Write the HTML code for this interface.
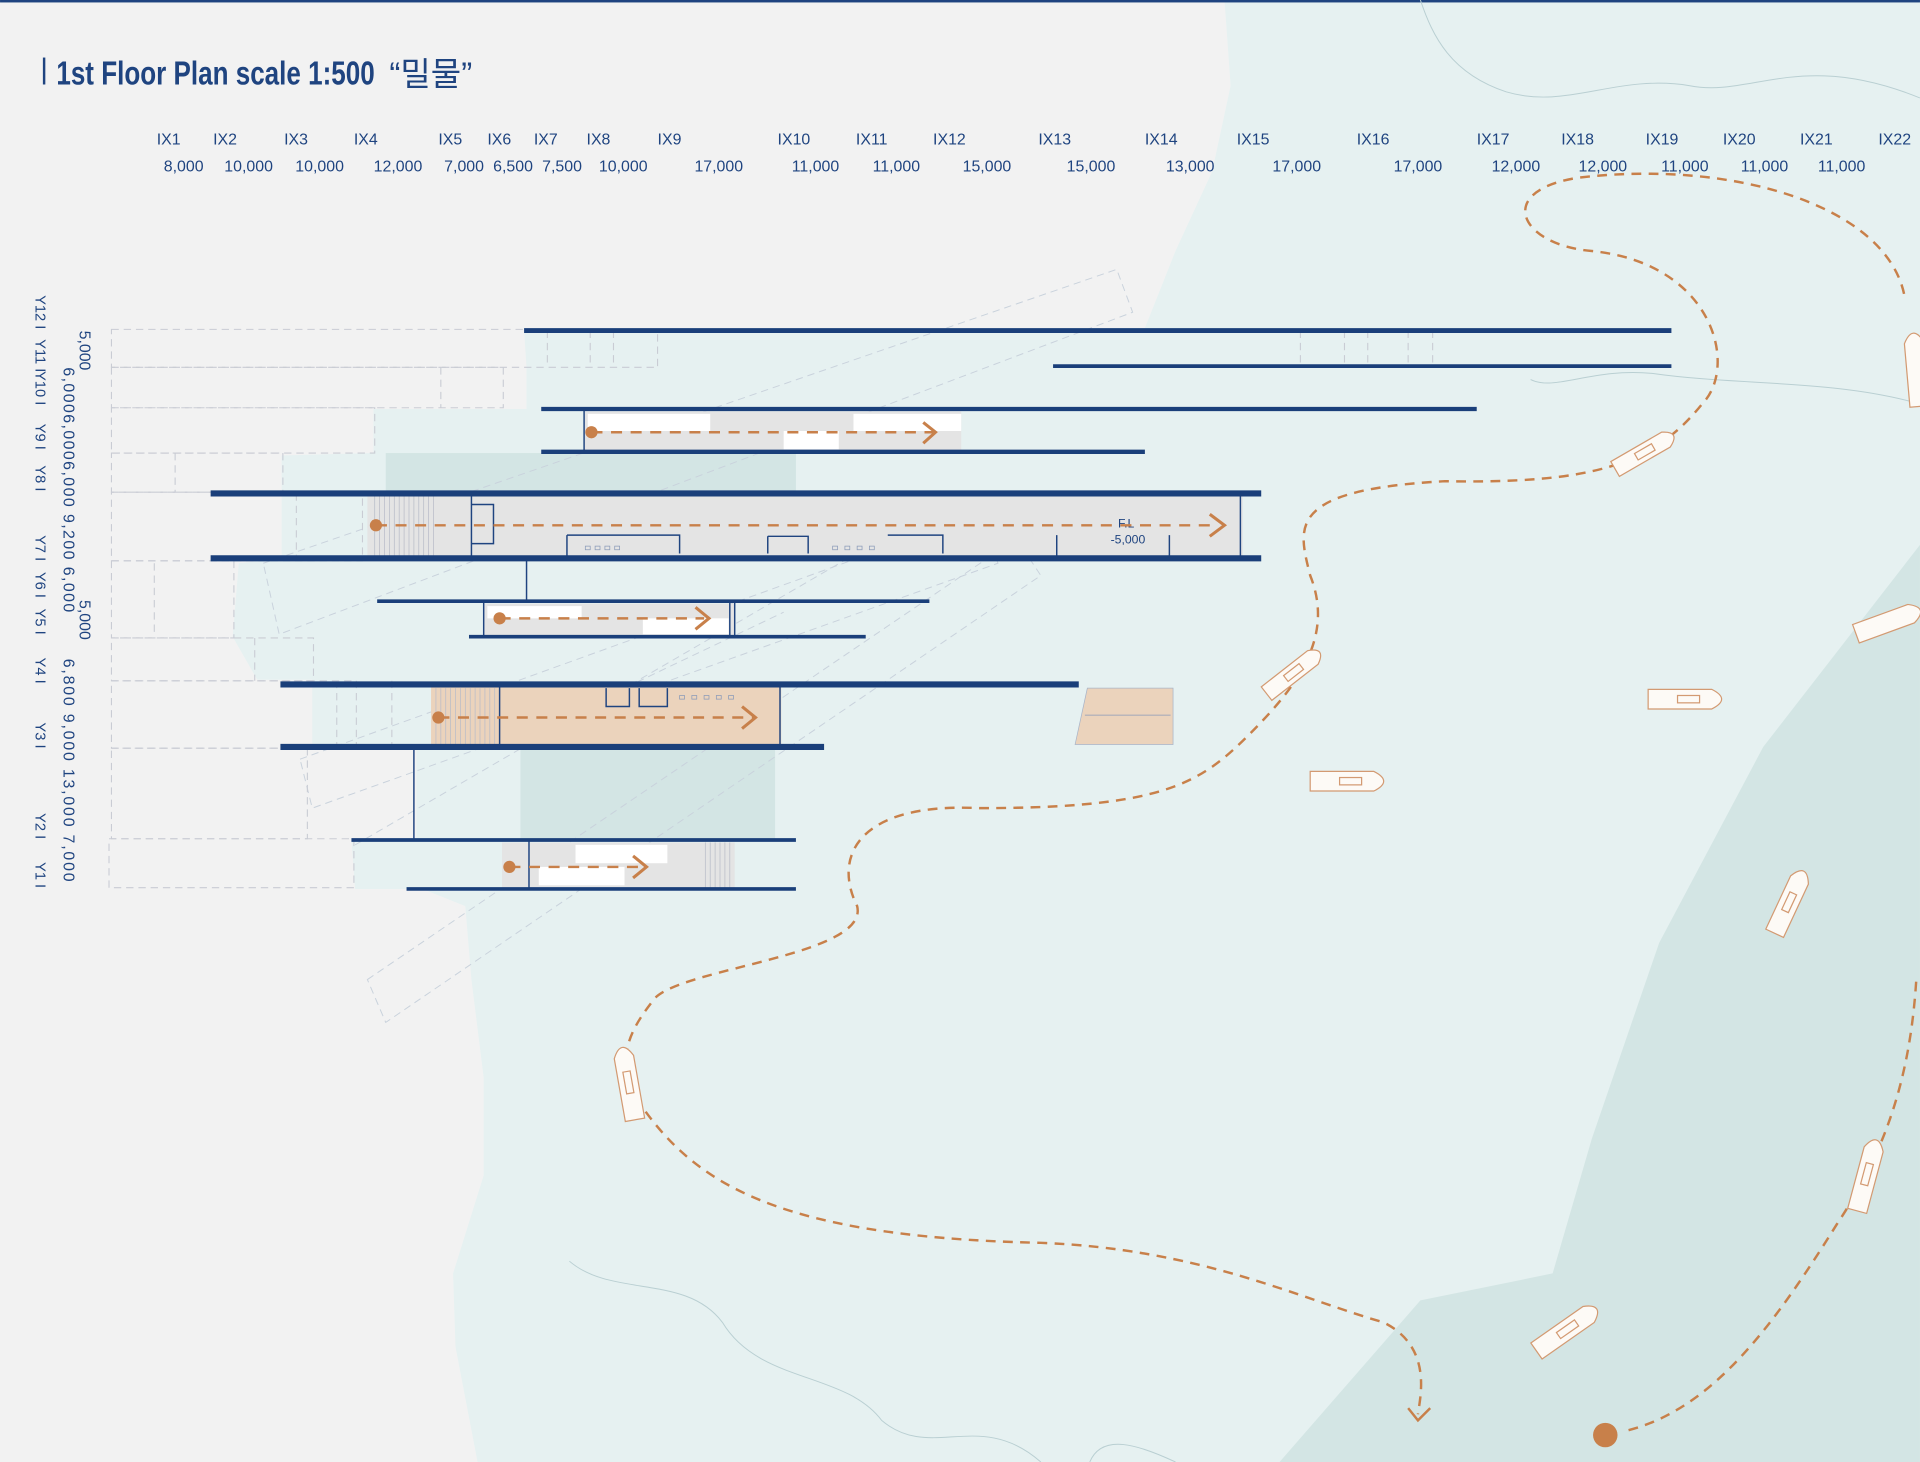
<!DOCTYPE html>
<html><head><meta charset="utf-8"><style>
html,body{margin:0;padding:0;background:#f2f2f2;}
svg{display:block;}
text{font-family:"Liberation Sans","Noto Sans CJK KR",sans-serif;fill:#1f4480;}
</style></head><body>
<svg width="1920" height="1462" viewBox="0 0 1568 1194" xmlns="http://www.w3.org/2000/svg">
<rect width="1568" height="1194" fill="#f2f2f2"/>
<!-- water -->
<path d="M1000,0 L1568,0 L1568,1194 L390,1194 L372,1100 L370,1040 L395,960 L395,880 L385,800 L380,740 L345,726 L290,726 L287,686 L340,686 L340,612 L255,612 L255,555 L210,555 L190,520 L195,460 L230,456 L230,372 L305,370 L305,334 L430,334 L430,300 L428,270 L935,268 L960,205 L990,140 L1005,70 Z" fill="#e6f1f1"/>
<path d="M1045,1194 L1160,1062 L1268,1040 L1300,930 L1355,770 L1440,610 L1568,445 L1568,1194 Z" fill="#d3e5e4"/>
<rect x="315" y="370" width="335" height="32" fill="#d3e5e4"/>
<rect x="425" y="612" width="208" height="73" fill="#d3e5e4"/>
<rect width="1568" height="2" fill="#1f4480"/>
<!-- contour lines -->
<g fill="none" stroke="#b9cfd2" stroke-width="0.8">
<path d="M1160,0 C1170,30 1185,60 1230,75 C1280,90 1320,60 1380,70 C1430,80 1470,40 1568,80"/>
<path d="M1250,310 C1270,320 1300,300 1350,305 C1420,315 1500,310 1568,330"/>
<path d="M465,1030 C500,1060 560,1040 590,1080 C620,1130 690,1120 720,1160 C760,1194 800,1150 850,1194"/>
<path d="M890,1194 C900,1170 930,1180 960,1194"/>
</g>
<!-- diagonal dashed ghost shapes -->
<g fill="none" stroke="#c9d2dc" stroke-width="0.8" stroke-dasharray="6,4">
<path d="M215,460 L912,220 L925,255 L228,518 Z"/>
<path d="M245,620 L800,420 L815,460 L255,660 Z"/>
<path d="M300,800 L830,440 L850,470 L315,835 Z"/>
<path d="M290,690 L720,440"/>
<path d="M430,600 L640,500"/>
</g>
<!-- left dashed grid -->
<g fill="none" stroke="#c9ccd4" stroke-width="0.9" stroke-dasharray="6,4">
<rect x="91" y="269" width="446" height="31"/>
<rect x="91" y="300" width="320" height="33"/>
<rect x="91" y="333" width="215" height="37"/>
<rect x="91" y="370" width="140" height="32"/>
<rect x="91" y="402" width="205" height="56"/>
<rect x="91" y="458" width="100" height="63"/>
<rect x="91" y="521" width="165" height="35"/>
<rect x="91" y="556" width="200" height="55"/>
<rect x="91" y="611" width="160" height="74"/>
<rect x="89" y="685" width="200" height="40"/>
<path d="M447,270V300M482,270V300M501,270V300M1062,270V299M1098,270V299M1117,270V299M1150,270V299M1170,270V299M360,300V333M143,370V402M242,403V456M126,460V520M208,521V556M275,556V611M320,556V611"/>
</g>
<!-- building interiors -->
<rect x="477" y="336" width="308" height="32" fill="#e4e4e4"/>
<rect x="480" y="338" width="100" height="14" fill="#fff"/>
<rect x="640" y="352" width="45" height="15" fill="#fff"/>
<rect x="697" y="338" width="88" height="14" fill="#fff"/>
<rect x="300" y="405" width="715" height="50" fill="#e4e4e4"/>
<rect x="395" y="493" width="205" height="26" fill="#e4e4e4"/>
<rect x="398" y="495" width="77" height="10" fill="#fff"/>
<rect x="525" y="505" width="70" height="13" fill="#fff"/>
<rect x="352" y="561" width="286" height="48" fill="#ebd3bc"/>
<path d="M888,562 L958,562 L958,608 L878,608 Z" fill="#ebd3bc" stroke="#a8b4c8" stroke-width="0.6"/>
<rect x="410" y="688" width="190" height="37" fill="#e4e4e4"/>
<rect x="470" y="690" width="75" height="15" fill="#fff"/>
<rect x="440" y="708" width="70" height="15" fill="#fff"/>
<!-- stairs hatching -->
<g stroke="#b8bcc8" stroke-width="0.6">
<path d="M306,405V455M310,405V455M314,405V455M318,405V455M322,405V455M326,405V455M330,405V455M334,405V455M338,405V455M342,405V455M346,405V455M350,405V455M354,405V455"/>
<path d="M356,562V608M360,562V608M364,562V608M368,562V608M372,562V608M376,562V608M380,562V608M384,562V608M388,562V608M392,562V608M396,562V608M400,562V608M404,562V608"/>
<path d="M576,688V725M580,688V725M584,688V725M588,688V725M592,688V725M596,688V725"/>
</g>
<!-- thin navy walls -->
<g stroke="#1f4480" stroke-width="1.2" fill="none">
<path d="M477,334V369M385,405V455M1013,405V456M395,491V520M600,491V520M637,561V609M408,561V609M432,686V725M430,458V491M338,612V685M596,491V520"/>
<path d="M463,437V455M463,437H555V452M627,438H660V452M627,438V452M725,437H770V452M863,437V455M955,437V455"/>
<path d="M495,562V577H514V562M522,562V577H545V562"/>
<path d="M385,412H403V444H385"/>
</g>
<g stroke="#8a9ab8" stroke-width="0.6" fill="none">
<path d="M478,446h4v3h-4zM486,446h4v3h-4zM494,446h4v3h-4zM502,446h4v3h-4zM680,446h4v3h-4zM690,446h4v3h-4zM700,446h4v3h-4zM710,446h4v3h-4z"/>
<path d="M555,568h4v3h-4zM565,568h4v3h-4zM575,568h4v3h-4zM585,568h4v3h-4zM595,568h4v3h-4z"/>
<path d="M886,584H956"/>
</g>
<!-- slabs -->
<g stroke="#1a3f7a" stroke-width="4">
<path d="M428,270H1365"/>
<path d="M860,299H1365" stroke-width="3"/>
<path d="M442,334H1206" stroke-width="3.5"/>
<path d="M442,369H935" stroke-width="3.5"/>
<path d="M172,403H1030" stroke-width="5"/>
<path d="M172,456H1030" stroke-width="5"/>
<path d="M308,491H759" stroke-width="3"/>
<path d="M383,520H707" stroke-width="3"/>
<path d="M229,559H881" stroke-width="5"/>
<path d="M229,610H673" stroke-width="5"/>
<path d="M287,686H650" stroke-width="3"/>
<path d="M332,726H650" stroke-width="3"/>
</g>
<text x="913" y="431" font-size="10" fill="#1f4480">F.L</text>
<text x="907" y="444" font-size="10">-5,000</text>
<!-- orange flows -->
<g stroke="#c8804a" stroke-width="2" fill="none" stroke-dasharray="9,7">
<path d="M483,353H762"/>
<path d="M307,429H995"/>
<path d="M408,505H575"/>
<path d="M358,586H615"/>
<path d="M416,708H525"/>
</g>
<g stroke="#c8804a" stroke-width="2.5" fill="none">
<path d="M754,345L764,353L754,362"/>
<path d="M988,420L1000,429L988,438"/>
<path d="M568,496L579,505L568,514"/>
<path d="M606,577L617,586L606,595"/>
<path d="M517,699L528,708L517,717"/>
</g>
<g fill="#c8804a">
<circle cx="483" cy="353" r="5"/><circle cx="307" cy="429" r="5"/><circle cx="408" cy="505" r="5"/><circle cx="358" cy="586" r="5"/><circle cx="416" cy="708" r="5"/>
<circle cx="1311" cy="1172" r="10"/>
</g>
<!-- boat paths -->
<g stroke="#c8804a" stroke-width="2" fill="none" stroke-dasharray="8,6">
<path d="M1555,240 C1540,170 1420,130 1290,145 C1220,155 1240,200 1300,205 C1400,215 1420,300 1390,330 C1350,380 1300,395 1180,393 C1050,400 1060,430 1070,470 C1090,520 1060,560 1020,600 C980,640 950,660 800,660 C700,655 680,700 700,740 C710,780 560,790 535,815 C515,840 505,860 515,890 C560,960 620,1010 850,1015 C980,1020 1060,1060 1130,1080 C1170,1100 1160,1140 1158,1155"/>
<path d="M1330,1168 C1400,1150 1450,1080 1500,1000 C1540,940 1560,880 1565,800"/>
</g>
<path d="M1150,1150L1158,1160L1168,1150" stroke="#c8804a" stroke-width="2" fill="none"/>
<!-- boats -->
<g fill="#fdfaf6" stroke="#d39a72" stroke-width="1">
<g transform="translate(1345,368) rotate(-30)"><path d="M-30,-7 H18 Q32,0 18,7 H-30 Z"/><rect x="-10" y="-3" width="16" height="6" fill="none"/></g>
<g transform="translate(1058,548) rotate(-38)"><path d="M-30,-7 H18 Q32,0 18,7 H-30 Z"/><rect x="-10" y="-3" width="16" height="6" fill="none"/></g>
<g transform="translate(1378,571)"><path d="M-32,-8 H20 Q36,0 20,8 H-32 Z"/><rect x="-8" y="-3" width="18" height="6" fill="none"/></g>
<g transform="translate(1102,638)"><path d="M-32,-8 H20 Q36,0 20,8 H-32 Z"/><rect x="-8" y="-3" width="18" height="6" fill="none"/></g>
<g transform="translate(1542,508) rotate(-20)"><path d="M-28,-8 H20 Q36,0 20,8 H-28 Z"/></g>
<g transform="translate(1462,735) rotate(-65)"><path d="M-30,-8 H18 Q34,0 18,8 H-30 Z"/><rect x="-10" y="-3" width="16" height="6" fill="none"/></g>
<g transform="translate(1525,958) rotate(-75)"><path d="M-32,-8 H20 Q36,0 20,8 H-32 Z"/><rect x="-10" y="-3" width="18" height="6" fill="none"/></g>
<g transform="translate(1281,1085) rotate(-35)"><path d="M-32,-8 H20 Q36,0 20,8 H-32 Z"/><rect x="-10" y="-3" width="18" height="6" fill="none"/></g>
<g transform="translate(513,883) rotate(-100)"><path d="M-32,-8 H20 Q36,0 20,8 H-32 Z"/><rect x="-10" y="-3" width="18" height="6" fill="none"/></g>
<g transform="translate(1565,300) rotate(-95)"><path d="M-32,-8 H20 Q36,0 20,8 H-32 Z"/></g>
</g>
<!-- title -->
<rect x="35" y="47" width="2" height="22" fill="#1f4480"/>
<text x="46" y="69" font-size="27" font-weight="bold" textLength="260" lengthAdjust="spacingAndGlyphs">1st Floor Plan  scale 1:500</text>
<text x="318" y="70" font-size="27">“밀물”</text>
<!-- X grid -->
<g font-size="13">
<text x="128" y="118">IX1</text><text x="174" y="118">IX2</text><text x="232" y="118">IX3</text><text x="289" y="118">IX4</text><text x="358" y="118">IX5</text><text x="398" y="118">IX6</text><text x="436" y="118">IX7</text><text x="479" y="118">IX8</text><text x="537" y="118">IX9</text><text x="635" y="118">IX10</text><text x="699" y="118">IX11</text><text x="762" y="118">IX12</text><text x="848" y="118">IX13</text><text x="935" y="118">IX14</text><text x="1010" y="118">IX15</text><text x="1108" y="118">IX16</text><text x="1206" y="118">IX17</text><text x="1275" y="118">IX18</text><text x="1344" y="118">IX19</text><text x="1407" y="118">IX20</text><text x="1470" y="118">IX21</text><text x="1534" y="118">IX22</text>
</g>
<g font-size="13" text-anchor="middle">
<text x="150" y="140">8,000</text><text x="203" y="140">10,000</text><text x="261" y="140">10,000</text><text x="325" y="140">12,000</text><text x="379" y="140">7,000</text><text x="419" y="140">6,500</text><text x="459" y="140">7,500</text><text x="509" y="140">10,000</text><text x="587" y="140">17,000</text><text x="666" y="140">11,000</text><text x="732" y="140">11,000</text><text x="806" y="140">15,000</text><text x="891" y="140">15,000</text><text x="972" y="140">13,000</text><text x="1059" y="140">17,000</text><text x="1158" y="140">17,000</text><text x="1238" y="140">12,000</text><text x="1309" y="140">12,000</text><text x="1376" y="140">11,000</text><text x="1441" y="140">11,000</text><text x="1504" y="140">11,000</text>
</g>
<!-- Y grid -->
<g font-size="12">
<text transform="translate(29,241) rotate(90)">Y12 I</text>
<text transform="translate(29,277) rotate(90)">Y11 I</text>
<text transform="translate(29,303) rotate(90)">Y10 I</text>
<text transform="translate(29,346) rotate(90)">Y9 I</text>
<text transform="translate(29,380) rotate(90)">Y8 I</text>
<text transform="translate(29,437) rotate(90)">Y7 I</text>
<text transform="translate(29,467) rotate(90)">Y6 I</text>
<text transform="translate(29,497) rotate(90)">Y5 I</text>
<text transform="translate(29,537) rotate(90)">Y4 I</text>
<text transform="translate(29,590) rotate(90)">Y3 I</text>
<text transform="translate(29,664) rotate(90)">Y2 I</text>
<text transform="translate(29,704) rotate(90)">Y1 I</text>
</g>
<g font-size="13">
<text transform="translate(65,270) rotate(90)">5,000</text>
<text transform="translate(52,300) rotate(90)" textLength="200" lengthAdjust="spacing">6,0006,0006,000 9,200  6,000</text>
<text transform="translate(65,490) rotate(90)">5,000</text>
<text transform="translate(52,538) rotate(90)" textLength="182" lengthAdjust="spacing">6,800 9,000   13,000     7,000</text>
</g>
</svg>
</body></html>
